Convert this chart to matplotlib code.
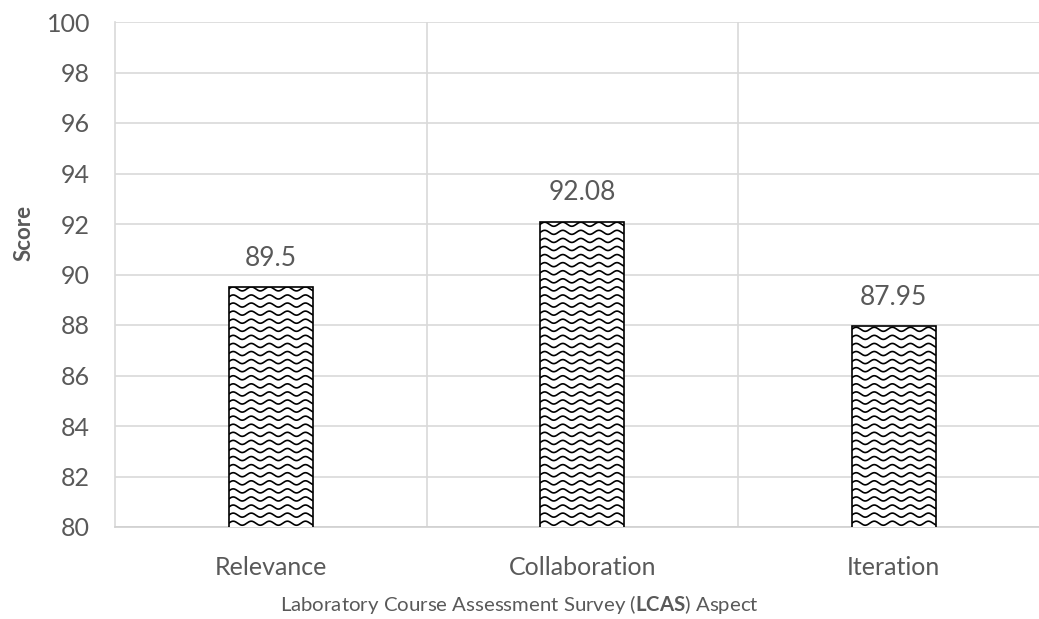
import numpy as np
import matplotlib.pyplot as plt

categories = ['Relevance', 'Collaboration', 'Iteration']
scores = [89.5, 92.08, 87.95]
labels = ['89.5', '92.08', '87.95']
yticks = [80, 82, 84, 86, 88, 90, 92, 94, 96, 98, 100]

plt.rcParams['font.family'] = ['Lato', 'DejaVu Sans']
plt.rcParams['mathtext.fontset'] = 'custom'
plt.rcParams['mathtext.rm'] = 'Lato'
plt.rcParams['mathtext.bf'] = 'Lato:bold'
grey = '#595959'

fig = plt.figure(figsize=(10.39, 6.19), dpi=100)
ax = fig.add_axes([115 / 1039, 1 - 527 / 619, 934.5 / 1039, 505 / 619])

x = np.arange(len(categories))
bars = ax.bar(x, scores, width=0.27, color='white', edgecolor='black', linewidth=1.2, zorder=3)

# wavy fill pattern, clipped to each bar
for b in bars:
    x0, w = b.get_x(), b.get_width()
    xs = np.linspace(x0 - 0.05, x0 + w + 0.05, 400)
    for y0 in np.arange(80.15, b.get_height() + 0.5, 0.32):
        ys = y0 + 0.08 * np.sin(2 * np.pi * (xs - x0) / 0.058)
        ln, = ax.plot(xs, ys, color='black', linewidth=1.2, zorder=4)
        ln.set_clip_path(b)

for xi, s, t in zip(x, scores, labels):
    ax.text(xi, s + 1.15, t, ha='center', va='center', fontsize=19, color=grey)

ax.set_xlim(-0.5, 2.5)
ax.set_ylim(80, 100)
ax.set_yticks(yticks)
ax.set_xticks(x)
ax.set_xticklabels(categories, fontsize=18)
ax.set_xticks([0.5, 1.5], minor=True)
ax.tick_params(axis='both', which='both', length=0, labelcolor=grey)
ax.tick_params(axis='y', labelsize=18, pad=18)
ax.tick_params(axis='x', pad=21)
ax.grid(axis='y', which='major', color='#d9d9d9', linewidth=1.2, zorder=0)
ax.grid(axis='x', which='minor', color='#d9d9d9', linewidth=1.2, zorder=0)
ax.grid(axis='x', which='major', visible=False)
for side in ['top', 'right']:
    ax.spines[side].set_visible(False)
ax.spines['left'].set_color('#d9d9d9')
ax.spines['left'].set_linewidth(1.2)
ax.spines['bottom'].set_color('#d0d0d0')
ax.spines['bottom'].set_linewidth(1.2)

fig.text(24 / 1039, 1 - 233 / 619, 'Score', fontsize=16, fontweight='bold', color=grey,
         rotation=90, ha='center', va='center')
fig.text(519 / 1039, 1 - 605 / 619, r'Laboratory Course Assessment Survey ($\mathbf{LCAS}$) Aspect',
         fontsize=14.7, color=grey, ha='center', va='center')

fig.savefig('out.png', dpi=100)
